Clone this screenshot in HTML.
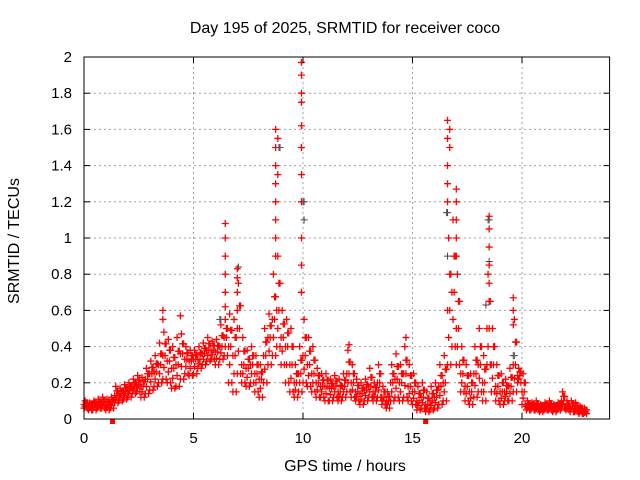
<!DOCTYPE html>
<html><head><meta charset="utf-8"><style>
body{margin:0;background:#fff}
svg{display:block;font-family:"Liberation Sans",sans-serif}
</style></head><body>
<svg id="chart" width="640" height="480" viewBox="0 0 640 480">
<rect width="640" height="480" fill="#fff"/>
<text x="345" y="33" font-size="16" text-anchor="middle">Day 195 of 2025, SRMTID for receiver coco</text>
<text x="345" y="471" font-size="16" text-anchor="middle">GPS time / hours</text>
<text transform="translate(19,241) rotate(-90)" font-size="16" text-anchor="middle">SRMTID / TECUs</text>
<g id="grid"></g>
<g id="marks"></g>
<rect x="84" y="57" width="525.6" height="362" fill="none" stroke="#000" stroke-width="1"/>
<g id="ticks"></g>
</svg>
<script>
const xTicks=[0,5,10,15,20];
const yTicks=[0,0.2,0.4,0.6,0.8,1,1.2,1.4,1.6,1.8,2];
const yTickLabels=["0","0.2","0.4","0.6","0.8","1","1.2","1.4","1.6","1.8","2"];
const hours=[0,0.2,0.4,0.6,0.8,1,1.2,1.4,1.6,1.8,2,2.2,2.4,2.6,2.8,3,3.2,3.4,3.6,3.8,4,4.2,4.4,4.6,4.8,5,5.2,5.4,5.6,5.8,6,6.2,6.4,6.6,6.8,7,7.2,7.4,7.6,7.8,8,8.2,8.4,8.6,8.8,9,9.2,9.4,9.6,9.8,10,10.2,10.4,10.6,10.8,11,11.2,11.4,11.6,11.8,12,12.2,12.4,12.6,12.8,13,13.2,13.4,13.6,13.8,14,14.2,14.4,14.6,14.8,15,15.2,15.4,15.6,15.8,16,16.2,16.4,16.6,16.8,17,17.2,17.4,17.6,17.8,18,18.2,18.4,18.6,18.8,19,19.2,19.4,19.6,19.8,20,20.2,20.4,20.6,20.8,21,21.2,21.4,21.6,21.8,22,22.2,22.4,22.6,22.8];
const lowVals=[.06,.05,.05,.06,.06,.05,.06,.09,.10,.11,.12,.14,.15,.12,.14,.16,.18,.20,.22,.20,.17,.18,.22,.25,.24,.25,.28,.30,.32,.33,.30,.33,.35,.20,.15,.25,.20,.18,.20,.15,.12,.20,.30,.35,.40,.30,.20,.15,.12,.15,.20,.18,.15,.12,.12,.10,.10,.12,.10,.12,.15,.12,.10,.08,.10,.12,.10,.12,.08,.06,.10,.12,.10,.12,.10,.08,.05,.06,.04,.05,.06,.08,.10,.30,.40,.30,.15,.10,.08,.12,.15,.10,.30,.15,.10,.08,.10,.10,.15,.20,.08,.05,.05,.05,.04,.05,.05,.04,.05,.06,.05,.04,.04,.03,.03];
const midVals=[.08,.07,.08,.08,.09,.08,.09,.13,.14,.15,.16,.18,.19,.18,.22,.25,.26,.30,.35,.32,.28,.30,.36,.33,.32,.33,.33,.36,.38,.38,.37,.40,.45,.40,.35,.50,.30,.28,.30,.25,.22,.35,.45,.55,.60,.45,.40,.30,.20,.25,.35,.30,.25,.20,.18,.18,.17,.18,.15,.18,.25,.20,.15,.14,.16,.18,.15,.20,.12,.10,.20,.22,.20,.25,.18,.15,.10,.12,.08,.10,.12,.18,.20,.60,.70,.50,.25,.18,.15,.25,.30,.20,.50,.30,.18,.15,.15,.18,.30,.24,.15,.07,.07,.07,.06,.07,.07,.06,.07,.10,.07,.07,.06,.05,.04];
const highVals=[.10,.09,.10,.11,.12,.11,.12,.18,.17,.19,.20,.22,.24,.23,.28,.32,.35,.42,.48,.44,.40,.45,.47,.40,.38,.38,.40,.42,.45,.43,.44,.52,.55,.58,.55,.75,.45,.38,.40,.35,.30,.50,.58,.80,.90,.60,.55,.50,.30,.40,.55,.45,.40,.28,.25,.25,.22,.24,.22,.25,.38,.30,.22,.20,.22,.28,.20,.30,.18,.15,.30,.36,.30,.40,.30,.25,.18,.20,.15,.18,.20,.30,.35,1.0,1.1,.80,.40,.30,.25,.40,.50,.35,.80,.50,.30,.25,.22,.28,.55,.28,.25,.10,.09,.10,.08,.09,.10,.08,.09,.15,.10,.10,.09,.07,.06];
const spikeHours=[3.6,3.6,4.4,6.45,6.45,6.45,6.45,6.45,6.45,7.0,7.0,7.0,7.0,8.75,8.75,8.75,8.75,8.75,8.75,8.75,8.75,8.85,8.85,9.93,9.93,9.93,9.93,9.93,9.93,9.93,9.93,9.93,9.93,9.93,12.1,14.7,16.6,16.6,16.6,16.6,16.6,16.7,16.7,17.0,17.0,17.0,17.0,17.0,18.5,18.5,18.5,18.5,18.5,19.6,19.6,19.6];
const spikeVals=[.6,.55,.57,1.08,1.0,.9,.8,.7,.62,.83,.78,.7,.6,1.6,1.5,1.4,1.3,1.2,1.1,1.0,.9,1.55,1.35,1.97,1.9,1.8,1.75,1.62,1.5,1.35,1.2,1.0,.85,.7,.41,.45,1.65,1.55,1.4,1.3,1.2,1.6,1.5,1.27,1.2,1.1,1.0,.9,1.12,1.05,.95,.85,.75,.67,.6,.52];
const blackHours=[8.9,9.88,10.0,10.0,16.55,16.55,18.45,18.45,19.6,18.3,6.2,7.0];
const blackVals=[1.5,1.75,1.2,1.1,1.14,.9,1.1,.87,.35,.63,.55,.84];
const squareHours=[1.3,15.6];
const squareVals=[0,0];

const X0=84,X1=609.6,Y0=419,Y1=57,XMAX=24,YMAX=2;
const sx=h=>X0+h/XMAX*(X1-X0);
const sy=v=>Y0-v/YMAX*(Y0-Y1);
const NS="http://www.w3.org/2000/svg";
const grid=document.getElementById('grid'),ticks=document.getElementById('ticks'),marks=document.getElementById('marks');
function mk(tag,attrs,parent){const e=document.createElementNS(NS,tag);for(const k in attrs)e.setAttribute(k,attrs[k]);parent.appendChild(e);return e;}
xTicks.forEach(t=>{
  const x=sx(t);
  if(t>0){const g=mk('line',{x1:x,x2:x,y1:Y0,y2:Y1,stroke:'#a0a0a0','stroke-dasharray':'2,3'},grid);
  
  }
  const a=mk('line',{x1:x,x2:x,y1:Y0,y2:Y0-6,stroke:'#000'},ticks);
  
  
  const b=mk('line',{x1:x,x2:x,y1:Y1,y2:Y1+6,stroke:'#000'},ticks);
  
  
  const l=mk('text',{x:x,y:443,'font-size':15,'text-anchor':'middle'},ticks);
  l.textContent=String(t);
  
  
});
yTicks.forEach((t,i)=>{
  const y=sy(t);
  if(t>0&&t<YMAX){const g=mk('line',{x1:X0,x2:X1,y1:y,y2:y,stroke:'#a0a0a0','stroke-dasharray':'2,3'},grid);
  
  }
  const a=mk('line',{x1:X0,x2:X0+6,y1:y,y2:y,stroke:'#000'},ticks);
  
  
  const b=mk('line',{x1:X1,x2:X1-6,y1:y,y2:y,stroke:'#000'},ticks);
  
  
  const l=mk('text',{x:72,y:y+5,'font-size':15,'text-anchor':'end'},ticks);
  l.textContent=yTickLabels[i];
  
  
});
function cross(h,v,color,w){
  const x=sx(h),y=sy(v);
  const p=mk('path',{d:`M${x-3.5},${y}h7M${x},${y-3.5}v7`,stroke:color,'stroke-width':w,fill:'none'},marks);
  
  
}
blackHours.forEach((h,i)=>cross(h+0.05,blackVals[i],'#444',1));
hours.forEach((h,i)=>{
  const lo=lowVals[i],mi=midVals[i],hi=highVals[i];
  const q1=(lo+mi)/2,q3=(mi+hi)/2;
  cross(h,lo,'#f00',1.3);
  cross(h+0.05,q1,'#f00',1.3);
  cross(h+0.1,mi,'#f00',1.3);
  cross(h+0.15,q3,'#f00',1.3);
  cross(h+0.05,hi,'#f00',1.3);
  cross(h+0.15,lo,'#f00',1.3);
  cross(h,mi,'#f00',1.3);
  cross(h+0.1,q3,'#f00',1.3);
});
spikeHours.forEach((h,i)=>cross(h,spikeVals[i],'#f00',1.3));
blackHours.forEach((h,i)=>{ if(i%2==0) cross(h,blackVals[i],'#555',1); });
squareHours.forEach((h,i)=>{
  const r=mk('rect',{x:sx(h)-2.5,y:sy(squareVals[i]),width:5,height:5,fill:'#f00'},marks);
  
  
});
</script>
</body></html>
